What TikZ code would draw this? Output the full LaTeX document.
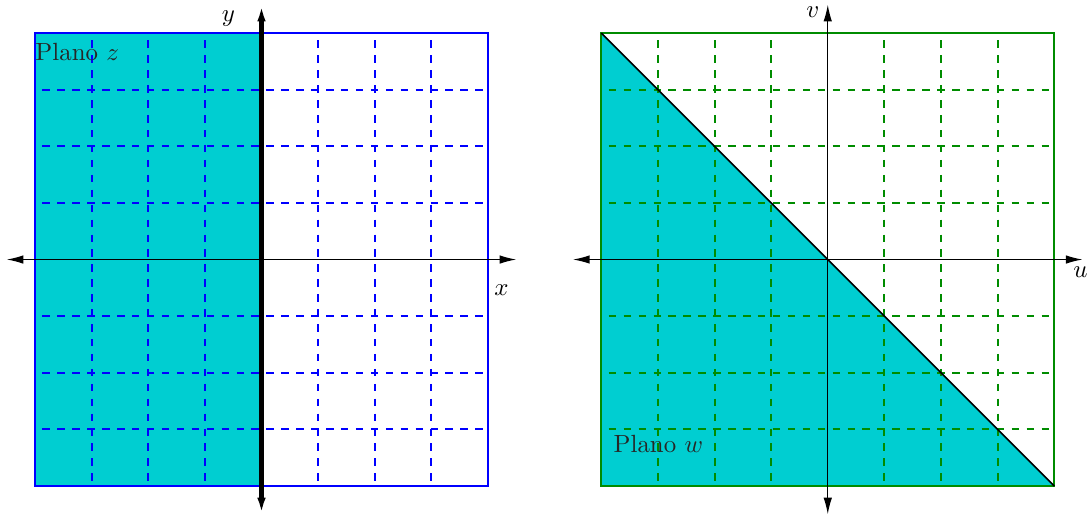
\documentclass[tikz,border=0pt]{standalone}
\usetikzlibrary{arrows.meta}
\definecolor{fillc}{RGB}{0,206,209}
\definecolor{gridgreen}{RGB}{0,140,0}
\tikzset{
  gridline/.style={line width=0.8pt, dash pattern=on 3pt off 3pt, dash phase=3pt},
  frame/.style={line width=0.9pt},
  axis/.style={line width=0.5pt, {Latex[length=6.7pt,width=3.4pt]}-{Latex[length=6.7pt,width=3.4pt]}},
  thickaxis/.style={line width=1.7pt, {Latex[length=6.7pt,width=3.4pt]}-{Latex[length=6.7pt,width=3.4pt]}},
  lbl/.style={inner sep=0pt, anchor=base},
  plano/.style={inner sep=0pt, anchor=base west, text=black!85}
}
\begin{document}
\begin{tikzpicture}[x=0.8cm,y=0.8cm]
\useasboundingbox (-4.618,-4.512) rectangle (14.578,4.583);
% ---------- left panel ----------
\fill[fillc] (-4,-4) rectangle (0,4);
\foreach \k in {-3,-2,-1,1,2,3} {
  \draw[gridline, blue] (-4,\k) -- (4,\k);
  \draw[gridline, blue] (\k,4) -- (\k,-4);
}
\draw[frame, blue] (-4,-4) rectangle (4,4);
\coordinate (lxa) at (-4.5,0);
\coordinate (lxb) at (4.5,0);
\coordinate (lya) at (0,-4.5);
\coordinate (lyb) at (0,4.5);
\draw[axis] (lxa) -- (lxb);
\draw[thickaxis] (lya) -- (lyb);
\node[lbl] (xl) at (4.24,-0.627) {$x$};
\node[lbl] (yl) at (-0.583,4.2) {$y$};
\node[plano] (pz) at (-4,3.52) {Plano $z$};
% ---------- right panel ----------
\fill[fillc] (6,4) -- (6,-4) -- (14,-4) -- cycle;
\foreach \k in {-3,-2,-1,1,2,3} {
  \draw[gridline, gridgreen] (6,\k) -- (14,\k);
  \draw[gridline, gridgreen] (10+\k,4) -- (10+\k,-4);
}
\draw[frame, gridgreen] (6,-4) rectangle (14,4);
\coordinate (da) at (6,4);
\coordinate (db) at (14,-4);
\draw[line width=0.6pt] (da) -- (db);
\coordinate (rxa) at (5.5,0);
\coordinate (rxb) at (14.5,0);
\coordinate (rya) at (10,-4.5);
\coordinate (ryb) at (10,4.5);
\draw[axis] (rxa) -- (rxb);
\draw[axis] (rya) -- (ryb);
\node[inner sep=0pt, anchor=base west] (ul) at (14.33,-0.31) {$u$};
\node[lbl] (vl) at (9.735,4.27) {$v$};
\node[plano] (pw) at (6.21,-3.41) {Plano $w$};
\end{tikzpicture}
\end{document}
